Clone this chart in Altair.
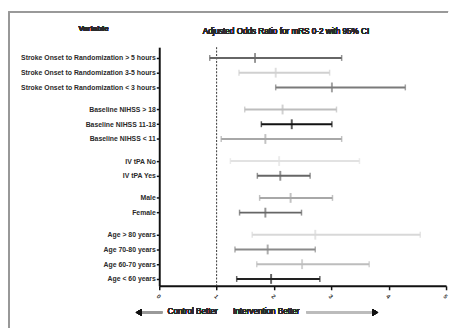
import altair as alt
import pandas as pd

# ---- data ----
groups = [
    ["Stroke Onset to Randomization > 5 hours",
     "Stroke Onset to Randomization 3-5 hours",
     "Stroke Onset to Randomization < 3 hours"],
    ["Baseline NIHSS > 18", "Baseline NIHSS 11-18", "Baseline NIHSS < 11"],
    ["IV tPA No", "IV tPA Yes"],
    ["Male", "Female"],
    ["Age > 80 years", "Age 70-80 years", "Age 60-70 years", "Age < 60 years"],
]
odds_ratio = [1.67, 2.03, 3.01, 2.15, 2.31, 1.85, 2.09, 2.11, 2.29, 1.85, 2.72, 1.89, 2.49, 1.95]
ci_low = [0.88, 1.39, 2.03, 1.49, 1.78, 1.08, 1.24, 1.71, 1.75, 1.40, 1.62, 1.32, 1.70, 1.35]
ci_high = [3.18, 2.97, 4.29, 3.09, 3.01, 3.18, 3.49, 2.63, 3.02, 2.48, 4.55, 2.72, 3.66, 2.80]
x_ticks = [0, 1, 2, 3, 4, 5]

# ---- styles ----
line_colors = ["#666666", "#d0d0d0", "#7a7a7a", "#bdbdbd", "#111111", "#a8a8a8", "#e2e2e2",
               "#666666", "#a8a8a8", "#666666", "#d8d8d8", "#8a8a8a", "#bdbdbd", "#222222"]
FONT = "Liberation Sans"

labels, pos = [], []
row = 0.0
for gi, g in enumerate(groups):
    for lab in g:
        labels.append(lab)
        pos.append(row)
        row += 1.0
    row += 0.5
df = pd.DataFrame({"label": labels, "pos": pos, "or": odds_ratio, "lo": ci_low, "hi": ci_high})

label_expr = "[" + ",".join("'" + l + "'" for l in labels) + "][indexof([" + \
    ",".join(str(p) for p in pos) + "], datum.value)]"

W, H = 292, 243
y_scale = alt.Scale(domain=[-0.73, pos[-1] + 0.47], reverse=True, nice=False, zero=False)
x_scale = alt.Scale(domain=[0, 5], nice=False)
color = alt.Color("label:N", scale=alt.Scale(domain=labels, range=line_colors), legend=None)

y_axis = alt.Axis(values=pos, labelExpr=label_expr, title=None, grid=False,
                  labelOverlap=False, labelBound=False, labelFlush=False,
                  domainColor="#111", domainWidth=2, tickColor="#111", tickSize=3,
                  tickWidth=1.5, labelFont=FONT, labelFontSize=7,
                  labelFontWeight="bold", labelColor="#2a2a2a", labelPadding=1)
x_axis = alt.Axis(values=x_ticks, format="d", title=None, grid=False,
                  labelOverlap=False, labelFlush=False,
                  domainColor="#111",
                  domainWidth=2, tickColor="#111", tickSize=4, tickWidth=1.5,
                  labelAngle=45, labelFont=FONT, labelFontSize=6,
                  labelFontWeight="bold", labelColor="#333", labelPadding=3)


def Y():
    return alt.Y("pos:Q", scale=y_scale, axis=y_axis)


def X(field):
    return alt.X(field, scale=x_scale, axis=x_axis)


base = alt.Chart(df)

bars = base.mark_rule(strokeWidth=2).encode(x=X("lo:Q"), x2="hi:Q", y=Y(), color=color)
cap_lo = base.mark_tick(orient="vertical", size=6, thickness=1.5).encode(
    x=X("lo:Q"), y=Y(), color=color)
cap_hi = base.mark_tick(orient="vertical", size=6, thickness=1.5).encode(
    x=X("hi:Q"), y=Y(), color=color)
mid = base.mark_tick(orient="vertical", size=10, thickness=2).encode(
    x=X("or:Q"), y=Y(), color=color)

ref = alt.Chart(pd.DataFrame({"v": [1]})).mark_rule(
    strokeDash=[2, 1.5], color="#333", strokeWidth=1).encode(
    x=X("v:Q"), y=alt.value(0), y2=alt.value(H))

# frame around the figure
frame_top = base.mark_rule(color="#999", strokeWidth=1.5).encode(
    x=alt.value(-153), x2=alt.value(294), y=alt.value(-36))
frame_left = base.mark_rule(color="#999", strokeWidth=1.5).encode(
    x=alt.value(-153), y=alt.value(-36), y2=alt.value(300))

t_var = base.mark_text(text="Variable", font=FONT, fontSize=8, fontWeight="bold",
                       color="#2a2a2a").encode(x=alt.value(-67), y=alt.value(-18))
t_title = base.mark_text(text="Adjusted Odds Ratio for mRS 0-2 with 95% CI", font=FONT,
                         fontSize=8.3, color="#2a2a2a").encode(x=alt.value(129), y=alt.value(-15))

# bottom annotation arrows
arr_l = base.mark_rule(color="#999", strokeWidth=2).encode(
    x=alt.value(-20), x2=alt.value(3), y=alt.value(270))
head_l = base.mark_point(shape="triangle-left", filled=True, color="#111", size=45, opacity=1).encode(
    x=alt.value(-21), y=alt.value(270))
t_ctrl = base.mark_text(text="Control Better", font=FONT, fontSize=8.3, color="#2a2a2a").encode(
    x=alt.value(34), y=alt.value(270))
t_int = base.mark_text(text="Intervention Better", font=FONT, fontSize=8.3, color="#2a2a2a").encode(
    x=alt.value(109), y=alt.value(270))
arr_r = base.mark_rule(color="#bbb", strokeWidth=2).encode(
    x=alt.value(150), x2=alt.value(216), y=alt.value(270))
head_r = base.mark_point(shape="triangle-right", filled=True, color="#111", size=45, opacity=1).encode(
    x=alt.value(220), y=alt.value(270))

chart = alt.layer(
    frame_top, frame_left, ref, bars, cap_lo, cap_hi, mid,
    t_var, t_title, arr_l, head_l, t_ctrl, t_int, arr_r, head_r
).properties(
    width=W, height=H, autosize="none",
    padding={"left": 154, "top": 37, "right": 3, "bottom": 40},
    background="white"
).configure_view(stroke=None)

chart.save("out.html", embed_options={"renderer": "svg", "actions": False})
